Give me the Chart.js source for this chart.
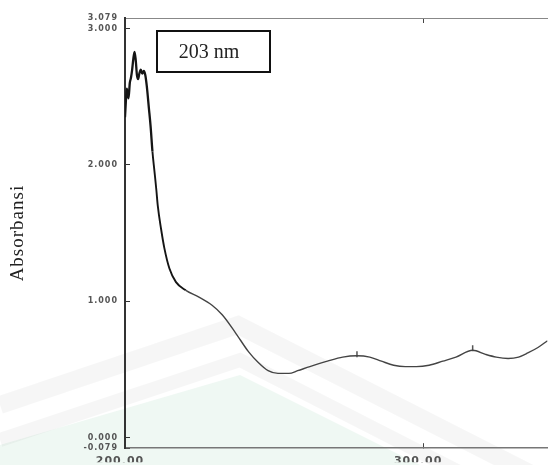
<!DOCTYPE html>
<html><head><meta charset="utf-8">
<script src="https://cdn.jsdelivr.net/npm/chart.js@4.4.1/dist/chart.umd.min.js"></script>
<style>html,body{margin:0;padding:0;background:#fff;overflow:hidden}#wrap{width:553px;height:465px}</style>
</head><body><div id="wrap"><canvas id="c" width="553" height="465"></canvas></div>
<script>
// ---- data ----
const wavelengths = [200.0,200.3,200.6,200.9,201.2,201.6,202.0,202.4,202.8,203.2,203.6,204.0,204.4,204.8,205.3,205.8,206.3,206.8,207.3,208.0,208.6,209.2,209.9,210.5,211.0,212.1,213.2,214.9,217.1,220.4,224.8,229.2,232.6,237.0,241.4,244.7,248.0,251.3,255.0,257.9,262.0,267.9,273.0,277.8,282.1,286.0,290.1,294.0,297.7,302.0,306.6,311.0,316.6,320.9,324.5,328.5,332.0,335.1,338.5,341.7];
const absorbance  = [2.35,2.47,2.56,2.52,2.49,2.60,2.64,2.70,2.78,2.83,2.77,2.66,2.63,2.67,2.70,2.67,2.69,2.66,2.58,2.42,2.28,2.10,1.95,1.82,1.70,1.53,1.39,1.24,1.14,1.08,1.03,0.97,0.90,0.77,0.63,0.55,0.49,0.47,0.47,0.49,0.52,0.56,0.59,0.60,0.59,0.56,0.53,0.52,0.52,0.53,0.56,0.59,0.64,0.61,0.59,0.58,0.59,0.62,0.66,0.71];
const peakWavelengths = [277.8, 316.6];
const peakAbsorbance  = [0.61, 0.655];
const xTickValues = [200, 300];
const yTickValues = [-0.079, 0, 1, 2, 3, 3.079];
const xRange = [200, 341.7];
const yRange = [-0.079, 3.079];
const peakLabel = '203 nm';
const yTitle = 'Absorbansi';

const spectrum = wavelengths.map((w, i) => ({x: w, y: absorbance[i]}));
const peaks = peakWavelengths.map((w, i) => ({x: w, y: peakAbsorbance[i]}));

const watermark = {
  id: 'watermark',
  beforeDraw(chart) {
    const ctx = chart.ctx;
    ctx.save();
    ctx.fillStyle = 'rgba(220,240,228,0.45)';
    ctx.beginPath();
    ctx.moveTo(0, 445); ctx.lineTo(240, 375); ctx.lineTo(420, 465); ctx.lineTo(0, 465); ctx.closePath();
    ctx.fill();
    ctx.strokeStyle = 'rgba(0,0,0,0.035)';
    ctx.lineJoin = 'miter';
    ctx.lineWidth = 18;
    ctx.beginPath(); ctx.moveTo(0, 405); ctx.lineTo(238, 325); ctx.lineTo(553, 485); ctx.stroke();
    ctx.lineWidth = 14;
    ctx.beginPath(); ctx.moveTo(0, 440); ctx.lineTo(240, 360); ctx.lineTo(553, 520); ctx.stroke();
    ctx.restore();
    ctx.letterSpacing = '1px';
  },
  beforeDatasetsDraw(chart) { chart.ctx.letterSpacing = '0px'; },
  afterDraw(chart) {
    const ctx = chart.ctx;
    ctx.save();
    ctx.letterSpacing = '0px';
    ctx.strokeStyle = '#111';
    ctx.lineWidth = 2;
    ctx.fillStyle = '#fff';
    ctx.fillRect(157, 31, 113, 41);
    ctx.strokeRect(157, 31, 113, 41);
    ctx.fillStyle = '#222';
    ctx.font = '20px "Liberation Serif"';
    ctx.textAlign = 'center';
    ctx.textBaseline = 'middle';
    ctx.fillText(peakLabel, 209, 53);
    ctx.restore();
  }
};

new Chart(document.getElementById('c'), {
  type: 'line',
  data: {
    datasets: [
      {
        data: spectrum, xAxisID: 'x', yAxisID: 'y',
        borderColor: '#1c1c1c', borderWidth: 1.4, pointRadius: 0,
        cubicInterpolationMode: 'monotone', fill: false,
        segment: {
          borderWidth: c => c.p0.parsed.x < 209 ? 2.3 : (c.p0.parsed.x < 218 ? 1.9 : 1.4),
          borderColor: c => c.p0.parsed.x < 218 ? '#151515' : '#444'
        }
      },
      {
        data: peaks, xAxisID: 'x', yAxisID: 'y', showLine: false,
        pointStyle: 'line', rotation: 90, pointRadius: 3, borderWidth: 1.5,
        borderColor: '#555', backgroundColor: '#555'
      }
    ]
  },
  options: {
    responsive: false, animation: false,
    layout: {padding: 0},
    plugins: {legend: {display: false}, tooltip: {enabled: false}},
    scales: {
      x: {
        type: 'linear', position: 'bottom', min: xRange[0], max: xRange[1],
        afterBuildTicks: s => { s.ticks = xTickValues.map(v => ({value: v})); },
        afterFit: s => { s.height = 14; },
        ticks: {
          callback: v => Number(v).toFixed(2), autoSkip: false, maxRotation: 0,
          font: {family: 'DejaVu Sans', size: 11, weight: 'bold'}, color: '#555',
          padding: 11, labelOffset: -5
        },
        grid: {drawOnChartArea: false, tickLength: -5, color: '#444', lineWidth: 1},
        border: {color: '#777', width: 1.5}
      },
      x2: {
        type: 'linear', position: 'top', min: xRange[0], max: xRange[1],
        afterBuildTicks: s => { s.ticks = [{value: 300}]; },
        afterFit: s => { s.height = 18; },
        ticks: {display: false},
        grid: {drawOnChartArea: false, tickLength: -5, color: '#444', lineWidth: 1},
        border: {color: '#888', width: 1}
      },
      y: {
        type: 'linear', position: 'left', min: yRange[0], max: yRange[1],
        afterBuildTicks: s => { s.ticks = yTickValues.map(v => ({value: v})); },
        afterFit: s => { s.width = 125; },
        ticks: {
          callback: v => Number(v).toFixed(3), autoSkip: false,
          font: {family: 'DejaVu Sans', size: 8, weight: 'bold'}, color: '#555',
          padding: 12
        },
        grid: {drawOnChartArea: false, tickLength: -5, color: '#333', lineWidth: 1},
        border: {color: '#333', width: 2},
        title: {
          display: true, text: yTitle, color: '#222',
          font: {family: 'Liberation Serif', size: 19, weight: 'normal'},
          padding: {top: 7, bottom: 0}
        }
      }
    }
  },
  plugins: [watermark]
});
</script>
</body></html>
